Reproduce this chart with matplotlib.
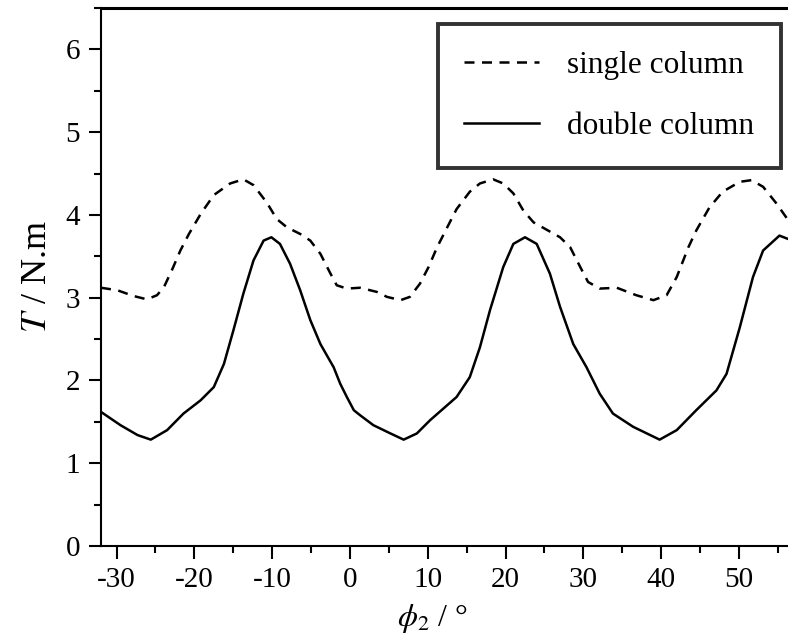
# 単柱/双柱のトルク T と φ2 の関係
import numpy as np
import matplotlib
matplotlib.use('Agg')
from matplotlib import pyplot as plt
from matplotlib.ticker import MultipleLocator

plt.rcParams['font.family'] = ['Liberation Serif', 'DejaVu Serif']
plt.rcParams['mathtext.fontset'] = 'stix'
plt.rcParams['axes.unicode_minus'] = False

# 図から読み取った値
phi_single = [-32, -29.9, -27.8, -26.1, -24.8, -23.9, -22.9, -21.8, -20.7, -19.2,
              -17.5, -15.4, -13.7, -12.4, -10.7, -9.4, -8.1, -6.4, -5.1, -3.8,
              -2.5, -1.7, -0.4, 1.3, 3.45, 4.75, 6.5, 7.7, 9.0, 10.1,
              11.2, 12.5, 13.7, 15.4, 16.7, 18.4, 19.7, 21.0, 22.3, 23.6,
              25.3, 27.0, 28.3, 29.6, 30.6, 32.1, 34.3, 36.8, 39.0, 40.7,
              42.0, 43.5, 44.5, 46.2, 47.9, 50.1, 51.6, 53.1, 54.8, 56.3]
T_single = [3.12, 3.09, 3.02, 2.98, 3.03, 3.13, 3.33, 3.57, 3.77, 4.01,
            4.24, 4.38, 4.43, 4.36, 4.15, 3.95, 3.85, 3.77, 3.69, 3.53,
            3.29, 3.15, 3.11, 3.12, 3.07, 3.01, 2.97, 3.01, 3.17, 3.37,
            3.61, 3.85, 4.07, 4.28, 4.38, 4.43, 4.38, 4.26, 4.05, 3.91,
            3.82, 3.73, 3.61, 3.37, 3.19, 3.11, 3.12, 3.03, 2.97, 3.03,
            3.25, 3.61, 3.81, 4.09, 4.28, 4.40, 4.42, 4.34, 4.14, 3.94]

phi_double = [-32, -29.5, -27.3, -25.6, -23.5, -21.4, -19.2, -17.5, -16.2, -15.0,
              -13.7, -12.4, -11.1, -10.1, -9.0, -7.7, -6.4, -5.1, -3.8, -2.1,
              -1.25, -0.4, 0.5, 1.3, 3.0, 5.2, 6.9, 8.6, 10.3, 12.0,
              13.7, 15.4, 16.7, 18.0, 19.7, 21.0, 22.5, 24.0, 25.7, 27.0,
              28.7, 30.4, 32.1, 33.8, 36.4, 39.8, 42.0, 44.5, 47.1, 48.4,
              50.1, 51.8, 53.1, 55.2, 56.3]
T_double = [1.62, 1.46, 1.34, 1.285, 1.40, 1.60, 1.76, 1.92, 2.20, 2.60,
            3.05, 3.45, 3.69, 3.73, 3.65, 3.41, 3.09, 2.73, 2.44, 2.16,
            1.96, 1.80, 1.64, 1.58, 1.46, 1.36, 1.285, 1.36, 1.52, 1.66,
            1.80, 2.04, 2.40, 2.85, 3.37, 3.65, 3.73, 3.65, 3.29, 2.89,
            2.44, 2.16, 1.84, 1.60, 1.44, 1.285, 1.40, 1.64, 1.88, 2.08,
            2.64, 3.25, 3.57, 3.75, 3.71]

fig = plt.figure(figsize=(7.88, 6.44), dpi=100)
ax = fig.add_axes([101/788, 1-546/644, 1-101/788, (546-8)/644])

ax.plot(phi_single, T_single, color='black', lw=1.8, dashes=(4, 3), label='single column')
ax.plot(phi_double, T_double, color='black', lw=1.8, label='double column')

ax.set_xlim(-32, 56.3)
ax.set_ylim(0, 6.5)
ax.xaxis.set_major_locator(MultipleLocator(10))
ax.xaxis.set_minor_locator(MultipleLocator(5))
ax.yaxis.set_major_locator(MultipleLocator(1))
ax.yaxis.set_minor_locator(MultipleLocator(0.5))
ax.tick_params(which='major', direction='out', length=9, width=1.5, labelsize=21, pad=6,
               top=False, right=False)
ax.tick_params(which='minor', direction='out', length=5, width=1.5, top=False, right=False)
ax.spines['right'].set_visible(False)
ax.spines['top'].set_linewidth(2.2)
ax.spines['left'].set_linewidth(1.5)
ax.spines['bottom'].set_linewidth(1.5)

ax.set_xlabel(r'$\phi_2$ / °', fontsize=23)
ax.xaxis.set_label_coords(0.482, -0.105)
ax.set_ylabel(r'$T$ / N.m', fontsize=26, labelpad=8)

leg = ax.legend(loc='upper right', bbox_to_anchor=(781/788, 1-24/644),
                bbox_transform=fig.transFigure, borderaxespad=0, fontsize=22.5,
                fancybox=False, handlelength=2.4, handletextpad=0.9,
                labelspacing=1.05, borderpad=0.85)
leg.get_frame().set_edgecolor('black')
leg.get_frame().set_linewidth(2.8)

plt.savefig('out.png', dpi=100)
